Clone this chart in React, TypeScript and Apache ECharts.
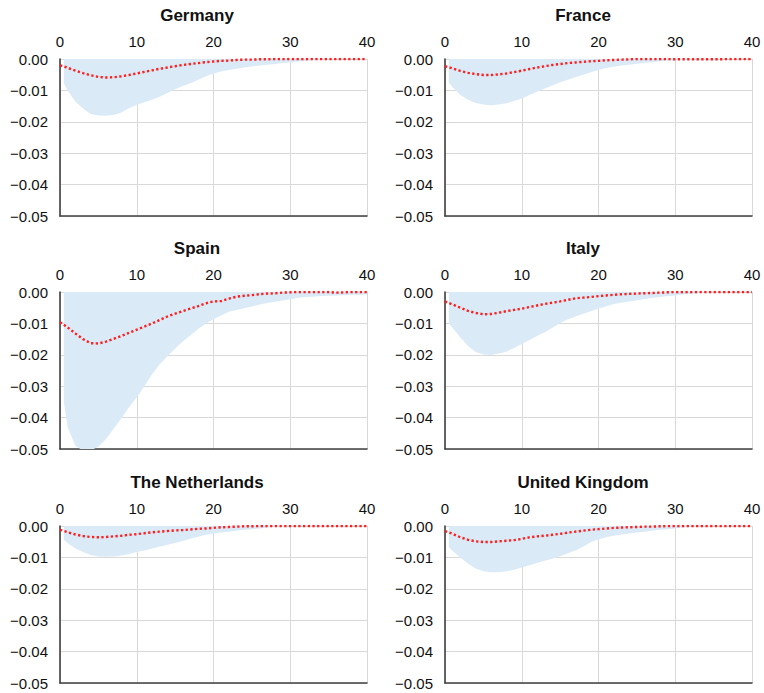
import React, { useEffect, useRef } from "react";
import * as echarts from "echarts";

const countries = ["Germany", "France", "Spain", "Italy", "The Netherlands", "United Kingdom"];

// horizons (quarters) for the median response
const horizons = Array.from({ length: 41 }, (_, i) => i);
// the band starts half a step in
const bandHorizons = [0.5, ...horizons.slice(1)];

const yTicks = [0, -0.01, -0.02, -0.03, -0.04, -0.05];
const xTicks = [0, 10, 20, 30, 40];

const germanyMedian = [-0.0020,-0.0028,-0.0037,-0.0045,-0.0052,-0.0057,-0.0059,-0.0058,-0.0055,-0.0051,-0.0046,-0.0041,-0.0036,-0.0031,-0.0027,-0.0023,-0.0019,-0.0016,-0.0013,-0.0010,-0.0008,-0.0006,-0.0005,-0.0003,-0.0002,-0.0002,-0.0001,-0.0001,0,0,0,0,0,0,0,0,0,0,0,0,0];
const germanyLower = [-0.0078,-0.0100,-0.0135,-0.0158,-0.0175,-0.0180,-0.0181,-0.0178,-0.0170,-0.0157,-0.0146,-0.0138,-0.0130,-0.0120,-0.0108,-0.0096,-0.0086,-0.0077,-0.0066,-0.0055,-0.0046,-0.0040,-0.0035,-0.0031,-0.0027,-0.0024,-0.0021,-0.0018,-0.0016,-0.0013,-0.0011,-0.0008,-0.0006,-0.0004,-0.0002,-0.0001,0,0,0,0,0];

const franceMedian = [-0.0023,-0.0030,-0.0038,-0.0044,-0.0048,-0.0051,-0.0051,-0.0049,-0.0046,-0.0042,-0.0037,-0.0032,-0.0027,-0.0023,-0.0019,-0.0016,-0.0013,-0.0011,-0.0009,-0.0007,-0.0006,-0.0004,-0.0003,-0.0002,-0.0001,0,0,0,0,0,-0.0001,-0.0001,-0.0001,-0.0001,-0.0001,-0.0001,-0.0001,0,0,0,0];
const franceLower = [-0.0076,-0.0090,-0.0115,-0.0130,-0.0140,-0.0145,-0.0147,-0.0145,-0.0141,-0.0134,-0.0126,-0.0115,-0.0104,-0.0094,-0.0084,-0.0074,-0.0066,-0.0058,-0.0050,-0.0042,-0.0035,-0.0029,-0.0025,-0.0021,-0.0018,-0.0015,-0.0012,-0.0010,-0.0007,-0.0005,-0.0004,-0.0003,-0.0002,-0.0001,-0.0001,0,0,0,0,0,0];

const spainMedian = [-0.0096,-0.0113,-0.0132,-0.0150,-0.0163,-0.0164,-0.0158,-0.0149,-0.0140,-0.0130,-0.0120,-0.0110,-0.0100,-0.0089,-0.0078,-0.0069,-0.0061,-0.0053,-0.0045,-0.0036,-0.0030,-0.0029,-0.0021,-0.0015,-0.0012,-0.0010,-0.0007,-0.0005,-0.0004,-0.0002,-0.0001,0,0,0,0,0,-0.0002,-0.0001,0,0,0];
const spainLower = [-0.0350,-0.0430,-0.0490,-0.0505,-0.0505,-0.0492,-0.0468,-0.0435,-0.0402,-0.0367,-0.0335,-0.0300,-0.0262,-0.0230,-0.0205,-0.0180,-0.0158,-0.0138,-0.0118,-0.0100,-0.0087,-0.0075,-0.0063,-0.0057,-0.0052,-0.0046,-0.0040,-0.0035,-0.0031,-0.0027,-0.0023,-0.0018,-0.0016,-0.0015,-0.0013,-0.0012,-0.0011,-0.0010,-0.0009,-0.0009,-0.0008];

const italyMedian = [-0.0030,-0.0040,-0.0050,-0.0060,-0.0067,-0.0071,-0.0070,-0.0066,-0.0061,-0.0057,-0.0053,-0.0048,-0.0043,-0.0038,-0.0034,-0.0030,-0.0025,-0.0020,-0.0018,-0.0016,-0.0013,-0.0011,-0.0009,-0.0007,-0.0006,-0.0005,-0.0004,-0.0003,-0.0002,-0.0001,0,0,0,0,0,0,0,0,0,0,0];
const italyLower = [-0.0100,-0.0115,-0.0145,-0.0172,-0.0191,-0.0199,-0.0201,-0.0196,-0.0190,-0.0178,-0.0166,-0.0153,-0.0140,-0.0128,-0.0114,-0.0099,-0.0087,-0.0078,-0.0069,-0.0061,-0.0053,-0.0045,-0.0038,-0.0034,-0.0030,-0.0026,-0.0022,-0.0019,-0.0016,-0.0013,-0.0011,-0.0008,-0.0006,-0.0004,-0.0002,-0.0001,0,0,0,0,0];

const netherlandsMedian = [-0.0012,-0.0020,-0.0027,-0.0032,-0.0035,-0.0036,-0.0035,-0.0033,-0.0031,-0.0028,-0.0026,-0.0023,-0.0020,-0.0018,-0.0016,-0.0014,-0.0013,-0.0011,-0.0009,-0.0008,-0.0006,-0.0004,-0.0003,-0.0002,-0.0001,-0.0001,0,0,0,0,0,0,0,0,0,0,0,0,0,0,0];
const netherlandsLower = [-0.0043,-0.0055,-0.0071,-0.0083,-0.0092,-0.0097,-0.0098,-0.0097,-0.0094,-0.0089,-0.0083,-0.0078,-0.0072,-0.0066,-0.0060,-0.0054,-0.0048,-0.0041,-0.0034,-0.0028,-0.0024,-0.0021,-0.0018,-0.0015,-0.0012,-0.0010,-0.0008,-0.0005,-0.0003,-0.0002,-0.0001,0,0,0,0,0,0,0,0,0,0];

const ukMedian = [-0.0016,-0.0025,-0.0036,-0.0044,-0.0049,-0.0051,-0.0051,-0.0049,-0.0047,-0.0045,-0.0041,-0.0036,-0.0033,-0.0031,-0.0028,-0.0025,-0.0021,-0.0018,-0.0015,-0.0012,-0.0010,-0.0008,-0.0006,-0.0005,-0.0004,-0.0003,-0.0002,-0.0002,-0.0001,0,0,0,0,0,0,0,0,0,0,0,0];
const ukLower = [-0.0068,-0.0080,-0.0100,-0.0120,-0.0135,-0.0144,-0.0147,-0.0147,-0.0144,-0.0139,-0.0132,-0.0125,-0.0118,-0.0111,-0.0104,-0.0096,-0.0087,-0.0078,-0.0066,-0.0052,-0.0042,-0.0036,-0.0031,-0.0027,-0.0024,-0.0021,-0.0018,-0.0015,-0.0012,-0.0010,-0.0008,-0.0005,-0.0002,0,0,0,0,0,0,0,0];

const medians = [germanyMedian, franceMedian, spainMedian, italyMedian, netherlandsMedian, ukMedian];
const lowers = [germanyLower, franceLower, spainLower, italyLower, netherlandsLower, ukLower];

const FONT = "'Liberation Sans', Arial, sans-serif";
const colLeft = [60, 445];
const rowTop = [59, 292, 526];
const plotW = 307;
const plotH = 157;
const titleX = [197, 583];
const titleY = [15, 248, 482];

const fmtY = (v: number) => {
  const s = Math.abs(v).toFixed(2);
  return v < -1e-9 ? "\u2212" + s : s;
};

export default function App() {
  const ref = useRef<HTMLDivElement>(null);
  useEffect(() => {
    if (!ref.current) return;
    const chart = echarts.init(ref.current, undefined, { renderer: "svg" });
    const grids: any[] = [];
    const xAxes: any[] = [];
    const yAxes: any[] = [];
    const series: any[] = [];
    const graphics: any[] = [];
    countries.forEach((name, i) => {
      const c = i % 2;
      const r = Math.floor(i / 2);
      grids.push({ left: colLeft[c], top: rowTop[r], width: plotW, height: plotH, containLabel: false });
      xAxes.push({
        type: "value",
        gridIndex: i,
        position: "top",
        min: xTicks[0],
        max: xTicks[xTicks.length - 1],
        interval: 10,
        axisLine: { show: false },
        axisTick: { show: false },
        axisLabel: { color: "#111", fontSize: 15, fontFamily: FONT, margin: 10 },
        splitLine: { show: true, lineStyle: { color: "#d9d9d9", width: 1 } },
      });
      xAxes.push({
        type: "value",
        gridIndex: i,
        position: "bottom",
        min: xTicks[0],
        max: xTicks[xTicks.length - 1],
        interval: 10,
        axisLine: { show: true, onZero: false, lineStyle: { color: "#404040", width: 1.6 } },
        axisTick: { show: false },
        axisLabel: { show: false },
        splitLine: { show: false },
      });
      yAxes.push({
        type: "value",
        gridIndex: i,
        min: yTicks[yTicks.length - 1],
        max: yTicks[0],
        interval: 0.01,
        axisLine: { show: true, onZero: false, lineStyle: { color: "#404040", width: 1.6 } },
        axisTick: { show: false },
        axisLabel: { color: "#111", fontSize: 15, fontFamily: FONT, margin: 12, formatter: fmtY },
        splitLine: { show: true, lineStyle: { color: "#d9d9d9", width: 1 } },
      });
      series.push({
        type: "line",
        xAxisIndex: 2 * i,
        yAxisIndex: i,
        data: bandHorizons.map((h, k) => [h, lowers[i][k]]),
        symbol: "none",
        lineStyle: { width: 0, opacity: 0 },
        areaStyle: { color: "#dbeaf7", opacity: 1, origin: "end" },
        z: 1,
      });
      series.push({
        type: "line",
        xAxisIndex: 2 * i,
        yAxisIndex: i,
        data: horizons.map((h, k) => [h, medians[i][k]]),
        symbol: "none",
        lineStyle: { color: "#ff1f1f", width: 2.4, type: [2.3, 2.4] },
        z: 3,
      });
      graphics.push({
        type: "text",
        x: titleX[c],
        y: titleY[r],
        style: {
          text: name,
          fill: "#111",
          font: `bold 17px ${FONT}`,
          textAlign: "center",
          textVerticalAlign: "middle",
        },
      });
    });
    chart.setOption({
      animation: false,
      backgroundColor: "#ffffff",
      grid: grids,
      xAxis: xAxes,
      yAxis: yAxes,
      series,
      graphic: graphics,
    });
    return () => chart.dispose();
  }, []);
  return (
    <div
      ref={ref}
      style={{ position: "fixed", left: 0, top: 0, width: 764, height: 693, background: "#fff" }}
    />
  );
}
